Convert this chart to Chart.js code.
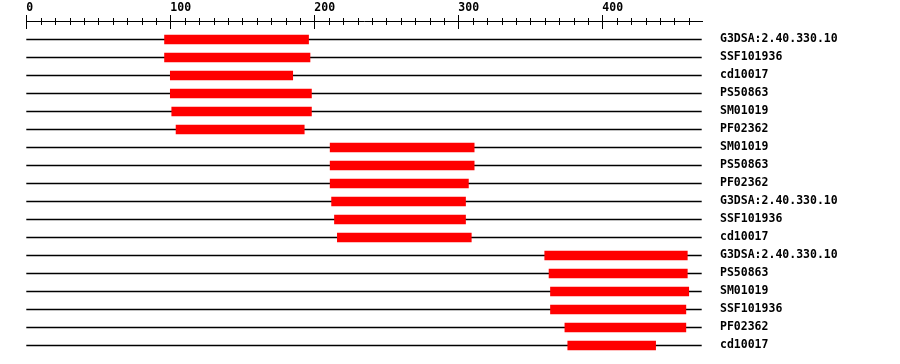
<!DOCTYPE html>
<html>
<head>
<meta charset="utf-8">
<script src="https://cdn.jsdelivr.net/npm/chart.js@4"></script>
<style>
  html, body { margin: 0; padding: 0; background: #fff; }
</style>
</head>
<body>
<canvas id="domainChart" width="900" height="364"></canvas>
<script>
// protein length and domain hits (residue positions)
const proteinLength = 469;
const domainNames = [
  'G3DSA:2.40.330.10', 'SSF101936', 'cd10017', 'PS50863', 'SM01019', 'PF02362',
  'SM01019', 'PS50863', 'PF02362', 'G3DSA:2.40.330.10', 'SSF101936', 'cd10017',
  'G3DSA:2.40.330.10', 'PS50863', 'SM01019', 'SSF101936', 'PF02362', 'cd10017',
];
const domainStarts = [96, 96, 100, 100, 101, 104, 211, 211, 211, 212, 214, 216, 360, 363, 364, 364, 374, 376];
const domainEnds = [196, 197, 185, 198, 198, 193, 311, 311, 307, 305, 305, 309, 459, 459, 460, 458, 458, 437];
const rulerStep = 10;
const labelStep = 100;

const labelFont = { family: 'DejaVu Sans Mono', size: 11.5, weight: 'bold' };

// ruler: axis line with long ticks every 100 and short ones every 10
const rulerPlugin = {
  id: 'ruler',
  afterDraw(chart) {
    const xs = chart.scales.x;
    const ctx = chart.ctx;
    const y0 = 21.5;
    ctx.save();
    ctx.strokeStyle = '#000';
    ctx.lineWidth = 1;
    ctx.beginPath();
    ctx.moveTo(Math.round(xs.getPixelForValue(0)), y0);
    ctx.lineTo(Math.round(xs.getPixelForValue(proteinLength)) + 1, y0);
    xs.ticks.forEach(t => {
      const px = Math.round(xs.getPixelForValue(t.value)) + 0.5;
      if (t.value % labelStep === 0) {
        ctx.moveTo(px, 15); ctx.lineTo(px, 29);
      } else {
        ctx.moveTo(px, 18); ctx.lineTo(px, 25);
      }
    });
    ctx.stroke();
    ctx.restore();
  }
};

new Chart(document.getElementById('domainChart'), {
  type: 'bar',
  data: {
    labels: domainNames,
    datasets: [
      {
        label: 'domains',
        data: domainStarts.map((s, i) => [s, domainEnds[i]]),
        backgroundColor: '#ff0000',
        barThickness: 9,
        grouped: false,
        order: 1,
      },
      {
        label: 'protein',
        data: domainNames.map(() => [0, proteinLength]),
        backgroundColor: '#000000',
        barThickness: 1,
        grouped: false,
        order: 2,
      },
    ],
  },
  options: {
    indexAxis: 'y',
    responsive: false,
    animation: false,
    layout: { padding: { left: 26.3, right: 0, top: 0, bottom: 9.5 } },
    plugins: {
      legend: { display: false },
      tooltip: { enabled: false },
    },
    scales: {
      x: {
        type: 'linear',
        position: 'top',
        min: 0,
        max: proteinLength,
        grid: { display: false, drawTicks: false },
        border: { display: false },
        ticks: {
          stepSize: rulerStep,
          includeBounds: false,
          autoSkip: false,
          maxRotation: 0,
          align: 'start',
          padding: 16,
          color: '#000',
          font: labelFont,
          callback: v => (v % labelStep === 0 ? String(v) : ''),
        },
        afterFit: s => {
          s.height = 30.5;
          s.paddingLeft = 0;
          s.paddingRight = 0;
        },
      },
      y: {
        type: 'category',
        position: 'right',
        offset: true,
        grid: { display: false, drawTicks: false },
        border: { display: false },
        ticks: {
          padding: 18.3,
          color: '#000',
          font: labelFont,
          autoSkip: false,
        },
        afterFit: s => {
          s.width = 198.3;
          s.paddingTop = 0;
          s.paddingBottom = 0;
        },
      },
    },
  },
  plugins: [rulerPlugin],
});
</script>
</body>
</html>
